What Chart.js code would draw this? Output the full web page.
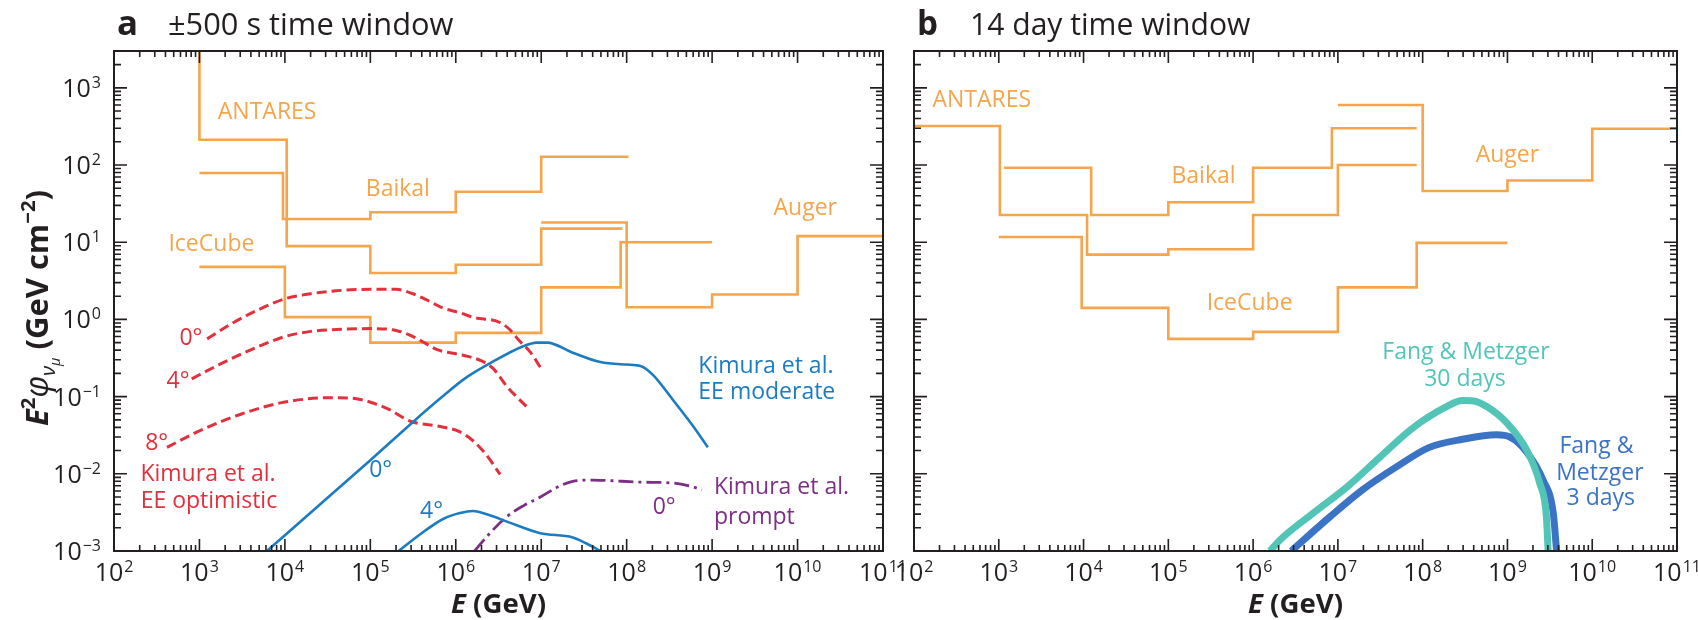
<!DOCTYPE html>
<html>
<head>
<meta charset="utf-8">
<script src="https://cdn.jsdelivr.net/npm/chart.js@4.4.0/dist/chart.umd.min.js"></script>
<style>
  html, body { margin: 0; padding: 0; background: #fff; }
  #wrap { position: relative; width: 1698px; height: 620px; }
  #wrap canvas { position: absolute; left: 0; top: 0; }
</style>
</head>
<body>
<div id="wrap">
  <canvas id="panelA" width="1698" height="620"></canvas>
  <canvas id="panelB" width="1698" height="620"></canvas>
</div>
<script>
// --- DATA ---
// E in GeV, flux E^2 phi in GeV cm^-2
// upper limits are steps: each flux holds from its energy up to the next energy
const xTickExp = [2, 3, 4, 5, 6, 7, 8, 9, 10, 11];
const yTickExp = [-3, -2, -1, 0, 1, 2, 3];

// panel a: +-500 s window
const antaresA_E = [1e3, 1e3, 1.05e4, 1e5, 1e6, 1e7, 8.9e7];
const antaresA_F = [5000, 213, 8.9, 4.0, 5.1, 15, 15];
const baikalA_E = [1e3, 9.5e3, 1e5, 1e6, 1e7, 1.05e8];
const baikalA_F = [79, 20, 24.5, 45, 128, 128];
const icecubeA_E = [1e3, 1e4, 1e5, 1e6, 1e7, 8.5e7, 1e9];
const icecubeA_F = [4.8, 1.07, 0.50, 0.67, 2.6, 10, 10];
const augerA_E = [1e7, 1e8, 1e9, 1e10, 1e11];
const augerA_F = [18, 1.44, 2.1, 12, 12];

const optim0_E = [1230, 2455, 5012, 1e4, 2.0e4, 3.98e4, 1e5, 2.0e5, 3.16e5, 5.0e5, 7.1e5, 1.12e6, 1.58e6, 3.31e6, 4.27e6, 5.62e6, 7.41e6, 9.77e6];
const optim0_F = [0.56, 0.9, 1.35, 1.85, 2.15, 2.35, 2.45, 2.45, 2.15, 1.7, 1.4, 1.22, 1.07, 0.91, 0.74, 0.52, 0.38, 0.24];
const optim4_E = [813, 1585, 3162, 6310, 1e4, 2.0e4, 3.98e4, 1e5, 2.0e5, 3.16e5, 6.3e5, 1.12e6, 2.0e6, 2.75e6, 3.98e6, 5.13e6, 6.76e6];
const optim4_F = [0.17, 0.25, 0.36, 0.5, 0.6, 0.7, 0.74, 0.76, 0.72, 0.6, 0.4, 0.35, 0.29, 0.23, 0.135, 0.1, 0.074];
const optim8_E = [417, 1000, 3162, 1e4, 3.7e4, 7.6e4, 1.58e5, 2.95e5, 6.6e5, 1.12e6, 1.58e6, 2.24e6, 3.31e6];
const optim8_F = [0.022, 0.036, 0.06, 0.085, 0.097, 0.092, 0.07, 0.048, 0.041, 0.035, 0.027, 0.018, 0.0098];

const moder0_E = [6166, 3.16e4, 1e5, 3.16e5, 6.6e5, 1.26e6, 2.51e6, 6.17e6, 8.91e6, 1.17e7, 2.34e7, 4.9e7, 1e8, 1.45e8, 2.04e8, 3.47e8, 6.03e8, 8.91e8];
const moder0_F = [0.001, 0.0049, 0.015, 0.047, 0.095, 0.17, 0.27, 0.45, 0.50, 0.50, 0.37, 0.28, 0.26, 0.25, 0.19, 0.091, 0.041, 0.022];
const moder4_E = [2.14e5, 3.98e5, 7.1e5, 1.12e6, 1.58e6, 2.51e6, 3.98e6, 9.77e6, 2.34e7, 3.39e7, 4.9e7];
const moder4_F = [0.001, 0.0017, 0.0026, 0.0031, 0.0033, 0.0029, 0.0024, 0.0017, 0.0015, 0.00125, 0.001];

const prompt0_E = [1.66e6, 2.51e6, 3.98e6, 6.31e6, 9.77e6, 1.58e7, 2.34e7, 3.98e7, 5.89e7, 1.45e8, 3.47e8, 5.62e8, 7.59e8];
const prompt0_F = [0.001, 0.0017, 0.0028, 0.0039, 0.005, 0.0068, 0.008, 0.0083, 0.0082, 0.0078, 0.0076, 0.0069, 0.0062];

// panel b: 14 day window
const antaresB_E = [1e2, 1.03e3, 1.1e4, 1e5, 1e6, 1e7, 8.5e7];
const antaresB_F = [320, 22.5, 6.9, 8.1, 22.5, 100, 100];
const baikalB_E = [1.15e3, 1.23e4, 1e5, 1e6, 8.5e6, 8.5e7];
const baikalB_F = [92, 22.5, 33, 92, 300, 300];
const icecubeB_E = [1e3, 9.5e3, 1e5, 1e6, 1e7, 8.5e7, 1e9];
const icecubeB_F = [11.7, 1.41, 0.56, 0.69, 2.6, 9.8, 9.8];
const augerB_E = [1e7, 1e8, 1e9, 1e10, 1e11];
const augerB_F = [600, 46, 63, 295, 295];

const fang30_E = [1.58e6, 2.09e6, 5.13e6, 1.29e7, 3.16e7, 7.59e7, 1.91e8, 2.95e8, 3.98e8, 5.75e8, 9.77e8, 1.7e9, 2.4e9, 2.88e9, 3.02e9];
const fang30_F = [0.001, 0.0014, 0.0031, 0.0068, 0.0166, 0.039, 0.074, 0.089, 0.088, 0.074, 0.046, 0.020, 0.0076, 0.0028, 0.001];
const fang3_E = [2.82e6, 8.13e6, 1.95e7, 4.9e7, 1.2e8, 2.95e8, 7.41e8, 1.07e9, 1.7e9, 2.63e9, 3.47e9, 3.8e9];
const fang3_F = [0.001, 0.0028, 0.0062, 0.0123, 0.022, 0.028, 0.032, 0.030, 0.019, 0.0083, 0.0031, 0.001];

// --- STYLE ---
const ORANGE = '#f5a54b';
const RED = '#e3303d';
const BLUE = '#1b7cc1';
const PURPLE = '#7d2f86';
const TEAL = '#52c5b7';
const DBLUE = '#3b74c4';
const INK = '#231f20';
const FONT = '"Open Sans", "Noto Sans", sans-serif';

function pts(xs, ys) {
    return xs.map((x, i) => ({ x: x, y: ys[i] }));
}

function stepSet(xs, ys) {
    return { data: pts(xs, ys), borderColor: ORANGE, borderWidth: 2.6, stepped: true, tension: 0 };
}

function curveSet(xs, ys, color, width, dash) {
    return {
        data: pts(xs, ys), borderColor: color, borderWidth: width,
        borderDash: dash || [], cubicInterpolationMode: 'monotone'
    };
}

// text labels placed in data units (E, flux)
const labelsA = [
    { t: 'ANTARES', e: 6.2e3, f: 480, c: ORANGE },
    { t: 'Baikal', e: 2.1e5, f: 48, c: ORANGE },
    { t: 'IceCube', e: 1.38e3, f: 9.3, c: ORANGE },
    { t: 'Auger', e: 1.23e10, f: 27, c: ORANGE },
    { t: '0°', e: 794, f: 0.56, c: RED },
    { t: '4°', e: 562, f: 0.155, c: RED },
    { t: '8°', e: 316, f: 0.025, c: RED },
    { t: 'Kimura et al.', e: 1260, f: 0.0098, c: RED },
    { t: 'EE optimistic', e: 1290, f: 0.0044, c: RED },
    { t: '0°', e: 1.32e5, f: 0.0112, c: BLUE },
    { t: '4°', e: 5.2e5, f: 0.0033, c: BLUE },
    { t: 'Kimura et al.', e: 6.9e8, f: 0.245, c: BLUE, a: 'left' },
    { t: 'EE moderate', e: 6.9e8, f: 0.112, c: BLUE, a: 'left' },
    { t: '0°', e: 2.75e8, f: 0.0037, c: PURPLE },
    { t: 'Kimura et al.', e: 1.05e9, f: 0.0066, c: PURPLE, a: 'left' },
    { t: 'prompt', e: 1.05e9, f: 0.00275, c: PURPLE, a: 'left' }
];
const labelsB = [
    { t: 'ANTARES', e: 631, f: 690, c: ORANGE },
    { t: 'Baikal', e: 2.6e5, f: 71, c: ORANGE },
    { t: 'IceCube', e: 9.1e5, f: 1.62, c: ORANGE },
    { t: 'Auger', e: 1e9, f: 135, c: ORANGE },
    { t: 'Fang & Metzger', e: 3.24e8, f: 0.37, c: TEAL },
    { t: '30 days', e: 3.16e8, f: 0.166, c: TEAL },
    { t: 'Fang &', e: 1.12e10, f: 0.0224, c: DBLUE },
    { t: 'Metzger', e: 1.23e10, f: 0.0102, c: DBLUE },
    { t: '3 days', e: 1.26e10, f: 0.0048, c: DBLUE }
];

// --- DRAWING HELPERS ---
function drawPow(ctx, exp, x, y, align) {
    const base = '10';
    const sup = exp < 0 ? '\u2212' + (-exp) : String(exp);
    ctx.font = '25px ' + FONT;
    const wb = ctx.measureText(base).width;
    ctx.font = '16px ' + FONT;
    const ws = ctx.measureText(sup).width;
    const w = wb + ws + 1;
    let x0 = align === 'right' ? x - w : x - w / 2;
    ctx.textAlign = 'left';
    ctx.textBaseline = 'alphabetic';
    ctx.font = '25px ' + FONT;
    ctx.fillText(base, x0, y);
    ctx.font = '16px ' + FONT;
    ctx.fillText(sup, x0 + wb + 1, y - 9);
}

// mixed-font text, centred on x and scaled to a wanted total width
function drawRich(ctx, parts, x, y, wantW) {
    let w = 0;
    parts.forEach(p => { ctx.font = p.f; p.w = ctx.measureText(p.t).width; w += p.w; });
    const k = wantW ? wantW / w : 1;
    ctx.save();
    ctx.translate(x, y);
    ctx.scale(k, k);
    let cx = -w / 2;
    ctx.textAlign = 'left';
    ctx.textBaseline = 'alphabetic';
    parts.forEach(p => { ctx.font = p.f; ctx.fillText(p.t, cx, p.dy || 0); cx += p.w; });
    ctx.restore();
}

// plain text from x, sized so that it spans wantW pixels
function drawFit(ctx, text, x, y, weight, wantW) {
    ctx.font = weight + ' 100px ' + FONT;
    const size = 100 * wantW / ctx.measureText(text).width;
    ctx.font = weight + ' ' + size.toFixed(1) + 'px ' + FONT;
    ctx.textAlign = 'left';
    ctx.textBaseline = 'alphabetic';
    ctx.fillText(text, x, y);
}

const decor = {
    id: 'decor',
    afterDraw(chart, args, opts) {
        const ctx = chart.ctx;
        const { left, right, top, bottom } = chart.chartArea;
        const xs = chart.scales.x, ys = chart.scales.y;
        ctx.save();

        // frame
        ctx.strokeStyle = INK;
        ctx.lineWidth = 2;
        ctx.strokeRect(left, top, right - left, bottom - top);

        // inward ticks on all four sides
        ctx.lineWidth = 1.6;
        ctx.beginPath();
        xTickExp.forEach(k => {
            for (let m = 1; m <= 9; m++) {
                const v = m * Math.pow(10, k);
                if (v < xs.min || v > xs.max) continue;
                const px = xs.getPixelForValue(v);
                const len = m === 1 ? 12 : 6;
                ctx.moveTo(px, bottom); ctx.lineTo(px, bottom - len);
                ctx.moveTo(px, top); ctx.lineTo(px, top + len);
            }
        });
        yTickExp.forEach(k => {
            for (let m = 1; m <= 9; m++) {
                const v = m * Math.pow(10, k);
                if (v < ys.min || v > ys.max * 1.001) continue;
                const py = ys.getPixelForValue(v);
                const len = m === 1 ? 13 : 7;
                ctx.moveTo(left, py); ctx.lineTo(left + len, py);
                ctx.moveTo(right, py); ctx.lineTo(right - len, py);
            }
        });
        ctx.stroke();

        // tick labels
        ctx.fillStyle = INK;
        xTickExp.forEach(k => drawPow(ctx, k, xs.getPixelForValue(Math.pow(10, k)), bottom + 30));
        if (opts.yLabels) {
            yTickExp.forEach(k => drawPow(ctx, k, left - 13, ys.getPixelForValue(Math.pow(10, k)) + 9, 'right'));
            // y title, rotated
            ctx.save();
            ctx.translate(48, 308);
            ctx.rotate(-Math.PI / 2);
            drawRich(ctx, [
                { t: 'E', f: 'italic bold 26px ' + FONT },
                { t: '2', f: 'bold 17px ' + FONT, dy: -11 },
                { t: 'φ', f: 'italic 27px ' + FONT },
                { t: 'ν', f: 'italic 17px ' + FONT, dy: 6 },
                { t: 'μ', f: 'italic 12px ' + FONT, dy: 10 },
                { t: ' (GeV cm', f: 'bold 26px ' + FONT },
                { t: '\u22122', f: 'bold 17px ' + FONT, dy: -11 },
                { t: ')', f: 'bold 26px ' + FONT }
            ], 0, 0, 236);
            ctx.restore();
        }

        // x title
        drawRich(ctx, [
            { t: 'E', f: 'italic bold 26px ' + FONT },
            { t: ' (GeV)', f: 'bold 26px ' + FONT }
        ], (left + right) / 2, bottom + 62, 95);

        // panel title
        drawFit(ctx, opts.letter, left + 3, top - 16, 'bold', 21);
        drawFit(ctx, opts.title, left + opts.titleDx, top - 16, 'normal', opts.titleW);

        // annotations
        ctx.textBaseline = 'middle';
        ctx.font = '23px ' + FONT;
        opts.labels.forEach(l => {
            ctx.fillStyle = l.c;
            ctx.textAlign = l.a || 'center';
            ctx.fillText(l.t, xs.getPixelForValue(l.e), ys.getPixelForValue(l.f));
        });
        ctx.restore();
    }
};

function makeChart(id, pad, datasets, panel) {
    return new Chart(document.getElementById(id), {
        type: 'line',
        data: { datasets: datasets },
        options: {
            responsive: false,
            animation: false,
            layout: { padding: pad },
            elements: { point: { radius: 0 } },
            plugins: { legend: { display: false }, tooltip: { enabled: false }, decor: panel },
            scales: {
                x: { type: 'logarithmic', min: 1e2, max: 1e11, display: false },
                y: { type: 'logarithmic', min: 1e-3, max: 3000, display: false }
            }
        },
        plugins: [decor]
    });
}

makeChart('panelA', { left: 114, right: 1698 - 883, top: 51, bottom: 620 - 551 }, [
    curveSet(moder0_E, moder0_F, BLUE, 2.6),
    curveSet(moder4_E, moder4_F, BLUE, 2.6),
    curveSet(prompt0_E, prompt0_F, PURPLE, 2.8, [15, 5, 3, 5]),
    curveSet(optim0_E, optim0_F, RED, 3, [10, 5]),
    curveSet(optim4_E, optim4_F, RED, 3, [10, 5]),
    curveSet(optim8_E, optim8_F, RED, 3, [10, 5]),
    stepSet(antaresA_E, antaresA_F),
    stepSet(baikalA_E, baikalA_F),
    stepSet(icecubeA_E, icecubeA_F),
    stepSet(augerA_E, augerA_F)
], { letter: 'a', title: '±500 s time window', titleDx: 54, titleW: 285, yLabels: true, labels: labelsA });

makeChart('panelB', { left: 914, right: 1698 - 1677, top: 51, bottom: 620 - 551 }, [
    curveSet(fang30_E, fang30_F, TEAL, 7),
    curveSet(fang3_E, fang3_F, DBLUE, 7),
    stepSet(antaresB_E, antaresB_F),
    stepSet(baikalB_E, baikalB_F),
    stepSet(icecubeB_E, icecubeB_F),
    stepSet(augerB_E, augerB_F)
], { letter: 'b', title: '14 day time window', titleDx: 56, titleW: 280, yLabels: false, labels: labelsB });
</script>
</body>
</html>
